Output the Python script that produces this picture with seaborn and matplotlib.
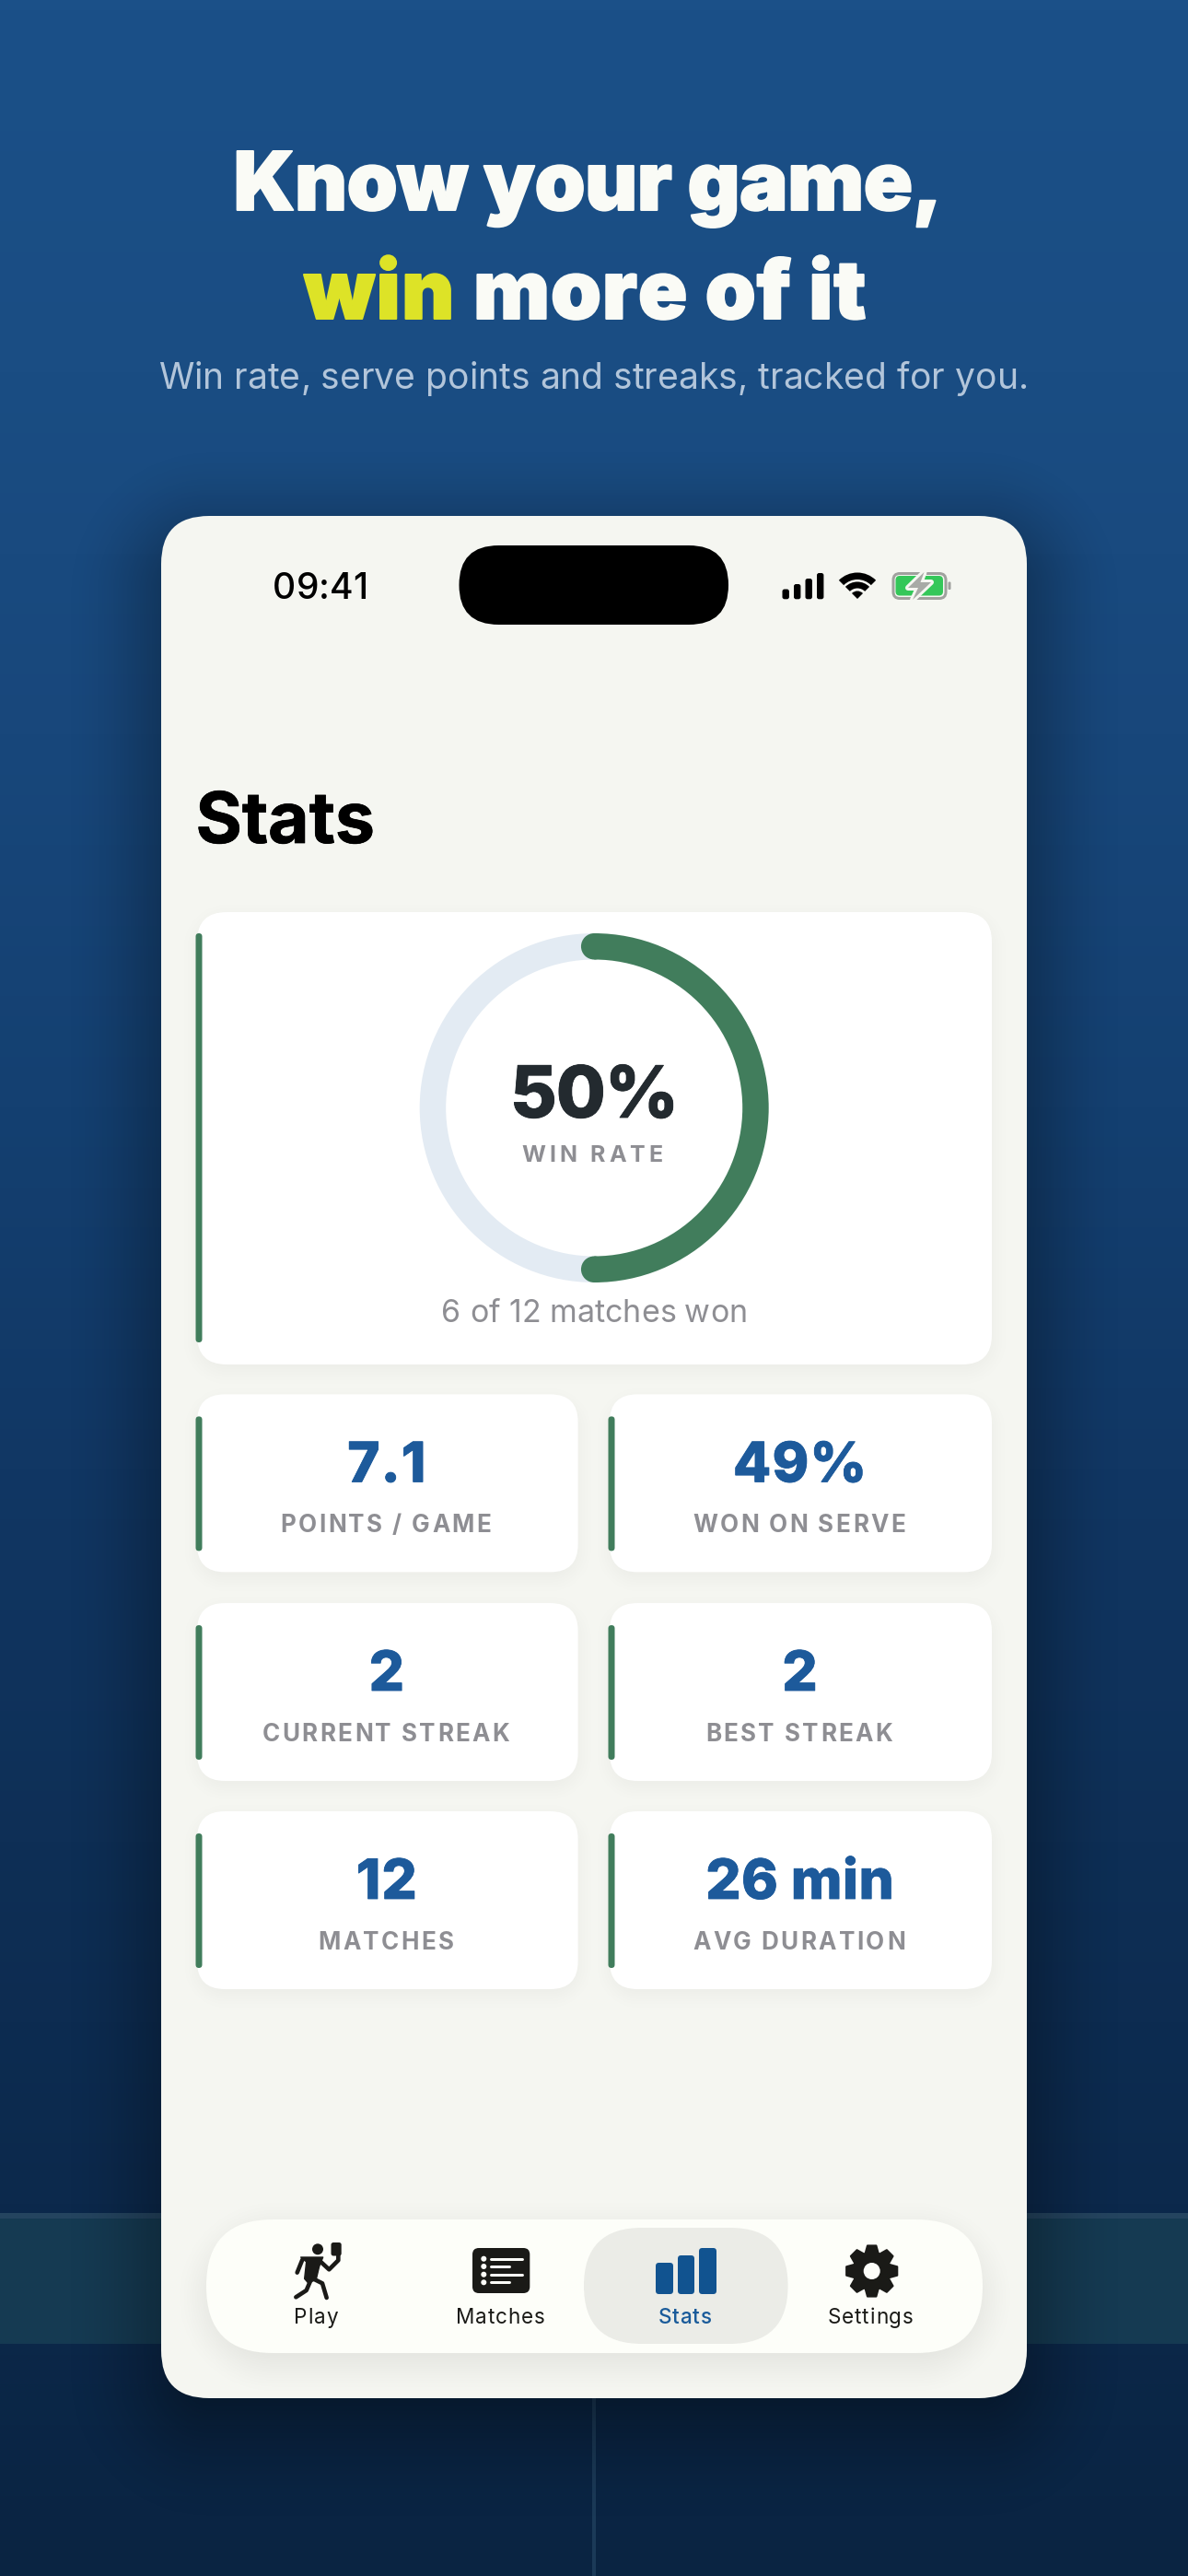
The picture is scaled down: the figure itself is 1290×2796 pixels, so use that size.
import numpy as np
import matplotlib
matplotlib.use("Agg")
import matplotlib.pyplot as plt
import matplotlib.patheffects as pe
from matplotlib.colors import to_rgb
from matplotlib.patches import FancyBboxPatch, Circle, Wedge, Polygon, Rectangle
from matplotlib.text import Text
from matplotlib.lines import Line2D
from matplotlib.transforms import IdentityTransform
import seaborn as sns

# values
wins = 6
losses = 6
stat_values = ["7.1", "49%", "2", "2", "12", "26 min"]
stat_labels = ["POINTS / GAME", "WON ON SERVE", "CURRENT STREAK", "BEST STREAK", "MATCHES", "AVG DURATION"]
nav_labels = ["Play", "Matches", "Stats", "Settings"]
nav_x = [344, 544, 744.5, 946]
icon_bars = [28, 36, 44]
signal_tops = [639.5, 634, 628, 622]
signal_left = [849.5, 862, 874.5, 887]
bg_stops = ["#1b5088", "#1a4d83", "#18477b", "#144071", "#113764", "#0e2f56", "#0c294c", "#0a2442"]

BLUE = "#1d5a9b"
GREEN = "#417d5c"
GREY = "#8e8e93"
INK = "#1a1a17"
PHONE = "#f5f6f1"
FONT = "Inter"

sns.set_theme(style="white")
plt.rcParams["font.family"] = [FONT, "DejaVu Sans"]

fig = plt.figure(figsize=(12.9, 27.96), dpi=100)
ax = fig.add_axes([0, 0, 1, 1])
ax.set_xlim(0, 1290)
ax.set_ylim(2796, 0)
ax.axis("off")


class SpacedText(Text):
    # keeps the whole string but draws it with letter spacing
    def __init__(self, x, y, s, spacing=0, **kw):
        super().__init__(x, y, s, **kw)
        self.spacing = spacing

    def draw(self, renderer):
        fp = self.get_fontproperties()
        s = self.get_text()
        bar = renderer.get_text_width_height_descent("|", fp, False)[0]
        adv = lambda t: renderer.get_text_width_height_descent(t + "|", fp, False)[0] - bar
        total = adv(s) + self.spacing * (len(s) - 1)
        px_, py = self.get_transform().transform((self.get_position()))
        ha = self.get_horizontalalignment()
        x0 = px_ - total / 2 if ha == "center" else px_
        for i, ch in enumerate(s):
            if ch == " ":
                continue
            t = Text(x0 + adv(s[:i]) + i * self.spacing, py, ch, transform=IdentityTransform(),
                     fontproperties=fp, color=self.get_color(), ha="left", va="baseline",
                     path_effects=self.get_path_effects())
            t.set_figure(self.get_figure())
            t.draw(renderer)


def px(size):
    return size * 0.72


def label(x, y, s, size, color, weight="normal", spacing=0, ha="center", stroke=0, z=20):
    t = SpacedText(x, y, s, spacing=spacing, fontsize=px(size), color=color, fontweight=weight,
                   ha=ha, va="baseline", zorder=z, transform=ax.transData)
    if stroke:
        t.set_path_effects([pe.withStroke(linewidth=stroke, foreground=color)])
    ax.add_artist(t)
    return t


def rrect(x0, y0, x1, y1, r, color, z=5, alpha=1.0, **kw):
    p = FancyBboxPatch((x0 + r, y0 + r), x1 - x0 - 2 * r, y1 - y0 - 2 * r,
                       boxstyle=f"round,pad={r},rounding_size={r}", fc=color, ec="none",
                       alpha=alpha, zorder=z, **kw)
    ax.add_patch(p)
    return p


def shadow(x0, y0, x1, y1, r, blur, dy, alpha, z, color="#000000", clip=None):
    # soft box shadow made from the distance to a rounded rectangle
    pad = blur + 2
    xs = np.arange(x0 - pad, x1 + pad) + 0.5
    ys = np.arange(y0 + dy - pad, y1 + dy + pad) + 0.5
    X, Y = np.meshgrid(xs, ys)
    qx = np.abs(X - (x0 + x1) / 2) - ((x1 - x0) / 2 - r)
    qy = np.abs(Y - (y0 + y1) / 2 - dy) - ((y1 - y0) / 2 - r)
    d = np.hypot(np.maximum(qx, 0), np.maximum(qy, 0)) + np.minimum(np.maximum(qx, qy), 0) - r
    t = np.clip(0.5 - d / (2 * blur), 0, 1)
    rgba = np.zeros(X.shape + (4,))
    rgba[..., :3] = to_rgb(color)
    rgba[..., 3] = alpha * t * t * (3 - 2 * t)
    im = ax.imshow(rgba, extent=[xs[0], xs[-1], ys[-1], ys[0]], aspect="auto", zorder=z, interpolation="bilinear")
    if clip is not None:
        im.set_clip_path(clip)


# background gradient and the court lines
cmap = sns.blend_palette(bg_stops, n_colors=256, as_cmap=True)
ax.imshow(np.linspace(0, 1, 512)[:, None], cmap=cmap, aspect="auto", extent=[0, 1290, 2796, 0], zorder=0)
ax.add_patch(Rectangle((0, 2408), 1290, 136, fc="#153a52", ec="none", zorder=1))
ax.add_patch(Rectangle((0, 2402), 1290, 6, fc="#24445f", ec="none", zorder=1))
ax.add_patch(Rectangle((643, 2544), 4, 252, fc="#1b3a58", ec="none", zorder=1))

# headline
label(638.5, 228, "Know your game,", 88, "#fafbf6", "black", spacing=-0.4, stroke=1.4)
label(330, 346, "win", 88, "#dde327", "black", spacing=1.5, ha="left", stroke=1.4)
label(514, 346, "more of it", 88, "#fafbf6", "black", spacing=1.0, ha="left", stroke=1.4)
label(644.5, 422, "Win rate, serve points and streaks, tracked for you.", 39, "#b2c5da")

# phone
shadow(175, 560, 1115, 2603, 52, 110, 30, 0.5, 3)
phone = rrect(175, 560, 1115, 2603, 52, PHONE, z=4)

# status bar
label(348, 650, "09:41", 39, "#000000", "medium")
rrect(498.5, 592, 791, 678, 43, "#000000", z=6)
for x, top in zip(signal_left, signal_tops):
    rrect(x, top, x + 7.4, 650.3, 2.4, "#000000", z=6)
ax.add_patch(Wedge((931, 650), 28.5, -135, -45, width=7.5, fc="#000000", ec="none", zorder=6))
ax.add_patch(Wedge((931, 650), 18.5, -135, -45, width=7, fc="#000000", ec="none", zorder=6))
ax.add_patch(Wedge((931, 650), 8.5, -135, -45, fc="#000000", ec="none", zorder=6))
batt = FancyBboxPatch((977.5, 630), 42, 12, boxstyle="round,pad=7.5,rounding_size=7", fc="none",
                      ec="#a0a19e", lw=px(3), zorder=6)
ax.add_patch(batt)
rrect(972.5, 625, 1024, 646.5, 4.5, "#34c759", z=6)
rrect(1029.5, 631.5, 1032.5, 640, 1.2, "#a0a19e", z=6)
bolt = [(1003.5, 621), (986, 638), (997, 638), (991, 651), (1011, 632), (999.5, 632)]
ax.add_patch(Polygon(bolt, closed=True, fc=PHONE, ec=PHONE, lw=px(6), joinstyle="round", zorder=7))
ax.add_patch(Polygon(bolt, closed=True, fc="#a8aaa6", ec="none", zorder=8))

# page title
label(212.5, 915, "Stats", 77, "#000000", "bold", ha="left", stroke=0.5)

# win rate card
shadow(214, 990, 1077, 1481, 32, 24, 7, 0.045, 5)
rrect(214, 990, 1077, 1481, 32, "#ffffff", z=6)
rrect(212.5, 1013, 219.5, 1457, 3.5, GREEN, z=7)

ring_r = 189.5
ring = fig.add_axes([(645.2 - ring_r - 2) / 1290, 1 - (1202.5 + ring_r + 2) / 2796,
                     (2 * ring_r + 4) / 1290, (2 * ring_r + 4) / 2796])
ring_w = 28.5 / ring_r
ring.pie([wins, losses], colors=[GREEN, "#e3ebf3"], startangle=90, counterclock=False, radius=1,
         wedgeprops={"width": ring_w, "linewidth": 0})
end = np.pi / 2 - 2 * np.pi * wins / (wins + losses)
for a in (np.pi / 2, end):
    ring.add_patch(Circle(((1 - ring_w / 2) * np.cos(a), (1 - ring_w / 2) * np.sin(a)), ring_w / 2,
                          fc=GREEN, ec="none", zorder=5))
lim = (ring_r + 2) / ring_r
ring.set_xlim(-lim, lim)
ring.set_ylim(-lim, lim)
ring.axis("off")

label(645.5, 1213, f"{100 * wins // (wins + losses)}%", 78, "#232a2f", "heavy", spacing=-1.0, stroke=0.6)
label(643, 1261, "WIN RATE", 25, GREY, "bold", spacing=4.0)
label(645.5, 1435, f"{wins} of {wins + losses} matches won", 34, GREY)

# stat cards
col_x = [(214, 627.6), (662, 1077)]
row_y = [1513.4, 1740, 1966]
for i, (val, lab) in enumerate(zip(stat_values, stat_labels)):
    x0, x1 = col_x[i % 2]
    y0 = row_y[i // 2]
    cx = (x0 + x1) / 2
    shadow(x0, y0, x1, y0 + 193, 30, 22, 7, 0.045, 5)
    rrect(x0, y0, x1, y0 + 193, 30, "#ffffff", z=6)
    rrect(x0 - 1.5, y0 + 24, x0 + 5.5, y0 + 170, 3.5, GREEN, z=7)
    label(cx - 1, y0 + 95, val, 60, BLUE, "heavy", spacing=1.2 if len(val) < 4 else 0.5, stroke=0.6)
    label(cx - 2, y0 + 149.5, lab, 26, GREY, "bold", spacing=2.4)

# nav bar
shadow(224, 2409, 1067, 2554, 72, 40, 12, 0.09, 5, clip=phone)
rrect(224, 2409, 1067, 2554, 72, "#fdfef9", z=6)
rrect(634, 2418, 855.6, 2544, 63, "#ebece7", z=7)
for name, x in zip(nav_labels, nav_x):
    label(x - 1, 2522, name, 22.5, "#1a5b9a" if name == "Stats" else INK,
          "medium" if name == "Stats" else "normal", spacing=0.9)


def zoom6(pts):
    return [(x / 3 + 280, y / 3 + 2410) for x, y in pts]


# play icon, a runner with a paddle
ax.add_patch(Circle((345, 2441.3), 6, fc=INK, ec="none", zorder=8))
rrect(359.5, 2434, 370.7, 2448.5, 2.5, INK, z=8)
limbs = [[(262, 112), (262, 130), (232, 160), (205, 135)],
         [(145, 128), (128, 170)],
         [(170, 200), (158, 228), (124, 250)],
         [(180, 190), (210, 205), (224, 252)]]
for limb in limbs:
    xs, ys = zip(*zoom6(limb))
    ax.add_line(Line2D(xs, ys, color=INK, lw=px(4.6), solid_capstyle="round", solid_joinstyle="round", zorder=8))
ax.add_patch(Polygon(zoom6([(140, 120), (212, 120), (200, 150), (190, 192), (165, 205), (152, 190), (158, 135)]),
                     closed=True, fc=INK, ec=INK, lw=1, joinstyle="round", zorder=8))

# matches icon
rrect(513, 2440, 575.3, 2489, 7, INK, z=8)
for k, y in enumerate([2451.7, 2460, 2468.7, 2477.3]):
    ax.add_patch(Circle((525.3, y), 3, fc="#fdfef9", ec="none", zorder=9))
    end_x = 566.7 if k % 2 == 0 else 553
    ax.add_line(Line2D([533, end_x], [y, y], color="#fdfef9", lw=px(3), solid_capstyle="round", zorder=9))

# stats icon
bars_ax = fig.add_axes([711.3 / 1290, 1 - 2487 / 2796, 67.7 / 1290, 43.7 / 2796])
sns.barplot(x=[0, 1, 2], y=icon_bars, width=0.534, color="#115390", saturation=1, ax=bars_ax)
bars_ax.set_xlim(-0.44, 2.44)
bars_ax.set_ylim(0, 43.7)
bars_ax.axis("off")
bars_ax.patch.set_alpha(0)
for p in bars_ax.patches:
    p.set_edgecolor("#115390")
    p.set_linewidth(px(6))
    p.set_joinstyle("round")
    p.set_clip_on(False)

# gear icon
gear_pts = []
for k in range(8):
    a = 2 * np.pi * k / 8 - np.pi / 2
    for off, rad in [(-0.39, 19.5), (-0.17, 28), (0.17, 28), (0.39, 19.5)]:
        gear_pts.append((946.7 + rad * np.cos(a + off), 2465 + rad * np.sin(a + off)))
ax.add_patch(Polygon(gear_pts, closed=True, fc=INK, ec=INK, lw=px(2), joinstyle="round", zorder=8))
ax.add_patch(Circle((946.7, 2465), 9, fc="#fdfef9", ec="none", zorder=9))

ax.set_xlim(0, 1290)
ax.set_ylim(2796, 0)
fig.savefig("out.png", dpi=100)
